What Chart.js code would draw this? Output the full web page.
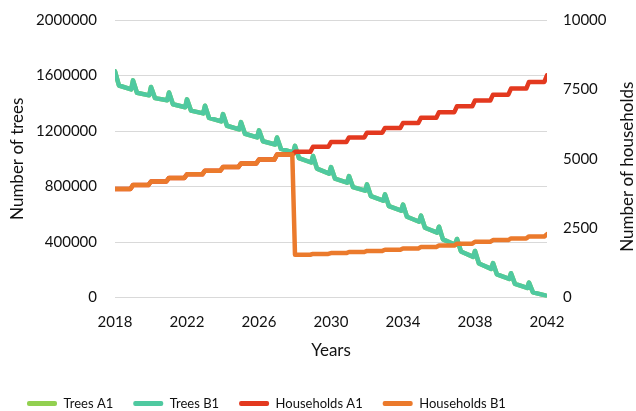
<!DOCTYPE html>
<html>
<head>
<meta charset="utf-8">
<script src="https://cdn.jsdelivr.net/npm/chart.js@4.4.1/dist/chart.umd.min.js"></script>
<style>
  html, body { margin: 0; padding: 0; background: #fff; }
</style>
</head>
<body>
<canvas id="chart" width="636" height="411"></canvas>
<script>
// values
const seriesNames = ['Trees A1', 'Trees B1', 'Households A1', 'Households B1'];
const seriesColors = ['#92d050', '#4fc9a0', '#e3391f', '#eb7a2c'];

const xTicks = [2018, 2022, 2026, 2030, 2034, 2038, 2042];
const treeTicks = [0, 400000, 800000, 1200000, 1600000, 2000000];
const householdTicks = [0, 2500, 5000, 7500, 10000];

// trees: yearly spike at the start of the year, quick drop, slow decline
const treeYears = [2018, 2019, 2020, 2021, 2022, 2023, 2024, 2025, 2026, 2027, 2028, 2029,
  2030, 2031, 2032, 2033, 2034, 2035, 2036, 2037, 2038, 2039, 2040, 2041];
const treesB1Peak = [1630000, 1565000, 1517000, 1478000, 1428000, 1382000, 1322000, 1264000,
  1205000, 1153000, 1093000, 1020000, 940000, 875000, 815000, 743000, 670000, 590000,
  510000, 422000, 335000, 248000, 175000, 108000];
const treesB1Drop = [1528000, 1476000, 1437000, 1393000, 1347000, 1295000, 1238000, 1180000,
  1126000, 1071000, 1005000, 929000, 857000, 796000, 730000, 658000, 582000, 503000,
  419000, 332000, 245000, 166000, 98000, 37000];
const treesB1Trough = [1500000, 1457000, 1421000, 1371000, 1327000, 1269000, 1212000, 1154000,
  1103000, 1045000, 973000, 893000, 828000, 770000, 698000, 626000, 546000, 467000,
  380000, 293000, 206000, 134000, 69000, 15000];
const treesB1End = 8000;
// A1 lies under B1 all the way
const treesA1Peak = treesB1Peak;
const treesA1Drop = treesB1Drop;
const treesA1Trough = treesB1Trough;
const treesA1End = treesB1End;
const dropAt = 0.22;    // part of the year when the drop ends
const troughAt = 0.9;   // part of the year when the low point is reached

// households: one step per year
const householdYears = [2018, 2019, 2020, 2021, 2022, 2023, 2024, 2025, 2026, 2027, 2028, 2029,
  2030, 2031, 2032, 2033, 2034, 2035, 2036, 2037, 2038, 2039, 2040, 2041, 2042];
const householdsA1 = [3910, 4050, 4180, 4310, 4440, 4570, 4700, 4830, 4970, 5150,
  5250, 5430, 5600, 5770, 5940, 6110, 6290, 6480, 6680, 6890, 7100, 7310, 7530, 7770, 8010];
const householdsB1 = [3910, 4050, 4180, 4310, 4440, 4570, 4700, 4830, 4970, 5150,
  1540, 1570, 1600, 1640, 1680, 1720, 1770, 1820, 1870, 1940, 2010, 2070, 2130, 2200, 2280];
const stepRamp = 0.15;

function treePoints(peak, drop, trough, end) {
  const pts = [];
  treeYears.forEach((yr, i) => {
    pts.push({ x: yr, y: peak[i] });
    pts.push({ x: yr + dropAt, y: drop[i] });
    pts.push({ x: yr + troughAt, y: trough[i] });
  });
  pts.push({ x: treeYears[treeYears.length - 1] + 1, y: end });
  return pts;
}

function stepPoints(levels) {
  const pts = [{ x: householdYears[0], y: levels[0] }];
  for (let i = 1; i < householdYears.length; i++) {
    pts.push({ x: householdYears[i] - stepRamp, y: levels[i - 1] });
    pts.push({ x: householdYears[i], y: levels[i] });
  }
  return pts;
}

const textColor = '#111';
const fontFamily = 'Lato, "Liberation Sans", sans-serif';

// keep the plot top where the reference has it
const fitY = width => s => {
  s.width = width;
  s.paddingTop = 20;
  s.paddingBottom = 0;
};

// right title reads bottom-to-top like the left one
const rightTitle = {
  id: 'rightTitle',
  afterDraw(chart) {
    const s = chart.scales.y1;
    const c = chart.ctx;
    c.save();
    c.translate(s.right - 8, (s.top + s.bottom) / 2 + 8);
    c.rotate(-Math.PI / 2);
    c.font = '17px ' + fontFamily;
    c.fillStyle = textColor;
    c.textAlign = 'center';
    c.textBaseline = 'middle';
    c.fillText('Number of households', 0, 0);
    c.restore();
  }
};

function draw() {
  const ctx = document.getElementById('chart');
  new Chart(ctx, {
    type: 'line',
    data: {
      datasets: [
        { label: seriesNames[0], data: treePoints(treesA1Peak, treesA1Drop, treesA1Trough, treesA1End), yAxisID: 'y', order: 3 },
        { label: seriesNames[1], data: treePoints(treesB1Peak, treesB1Drop, treesB1Trough, treesB1End), yAxisID: 'y', order: 2 },
        { label: seriesNames[2], data: stepPoints(householdsA1), yAxisID: 'y1', order: 1 },
        { label: seriesNames[3], data: stepPoints(householdsB1), yAxisID: 'y1', order: 0 }
      ].map((d, i) => ({ ...d, borderColor: seriesColors[i], backgroundColor: seriesColors[i] }))
    },
    options: {
      responsive: false,
      animation: false,
      layout: { padding: { top: 7, left: 7, bottom: -9 } },
      elements: {
        point: { radius: 0 },
        line: { borderWidth: 4.5, tension: 0, borderJoinStyle: 'round', borderCapStyle: 'round' }
      },
      scales: {
        x: {
          type: 'linear',
          min: xTicks[0],
          max: xTicks[xTicks.length - 1],
          afterBuildTicks: s => { s.ticks = xTicks.map(v => ({ value: v })); },
          afterFit: s => { s.height = 79.5; },
          ticks: { callback: v => String(v), padding: 8, color: textColor, font: { family: fontFamily, size: 15 }, maxRotation: 0 },
          grid: { display: false },
          border: { display: false },
          title: { display: true, text: 'Years', color: textColor, font: { family: fontFamily, size: 17 }, padding: { top: 4, bottom: 16 } }
        },
        y: {
          position: 'left',
          min: 0,
          max: treeTicks[treeTicks.length - 1],
          afterBuildTicks: s => { s.ticks = treeTicks.map(v => ({ value: v })); },
          afterFit: fitY(108),
          ticks: { callback: v => String(v), padding: 18, color: textColor, font: { family: fontFamily, size: 15 } },
          grid: { color: '#d9d9d9', drawTicks: false },
          border: { display: false },
          title: { display: true, text: 'Number of trees', color: textColor, font: { family: fontFamily, size: 17 }, padding: { top: 0, bottom: 4 } }
        },
        y1: {
          position: 'right',
          min: 0,
          max: householdTicks[householdTicks.length - 1],
          afterBuildTicks: s => { s.ticks = householdTicks.map(v => ({ value: v })); },
          afterFit: fitY(89),
          ticks: { callback: v => String(v), padding: 16, color: textColor, font: { family: fontFamily, size: 15 } },
          grid: { drawOnChartArea: false, drawTicks: false },
          border: { display: false }
        }
      },
      plugins: {
        legend: {
          position: 'bottom',
          align: 'start',
          labels: {
            color: textColor,
            font: { family: fontFamily, size: 13 },
            boxWidth: 30,
            boxHeight: 5,
            padding: 20,
            sort: (a, b) => a.datasetIndex - b.datasetIndex,
            generateLabels: chart => Chart.defaults.plugins.legend.labels.generateLabels(chart)
              .map(l => ({ ...l, lineWidth: 0, borderRadius: 2 }))
          }
        },
        tooltip: { enabled: false }
      }
    },
    plugins: [rightTitle]
  });
}

document.fonts.load('15px Lato').then(draw, draw);
</script>
</body>
</html>
